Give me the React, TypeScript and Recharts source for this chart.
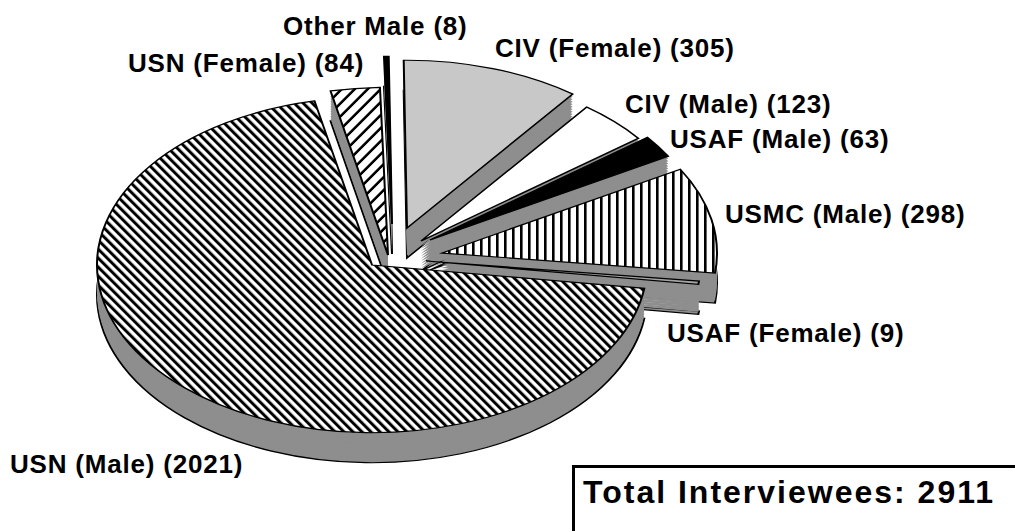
import { PieChart, Pie } from 'recharts';

// interview counts, in pie order (counter-clockwise from the right)
const GROUPS = ['USAF (Female)', 'USMC (Male)', 'USAF (Male)', 'CIV (Male)', 'CIV (Female)', 'Other Male', 'USN (Female)', 'USN (Male)'];
const COUNTS = [9, 298, 63, 123, 305, 8, 84, 2021];
const TOTAL_TITLE = 'Total Interviewees';

// look of each slice
const FILLS = ['#a4a4a4', 'url(#vlines)', '#000000', '#ffffff', '#c8c8c8', '#000000', 'url(#fwd)', 'url(#back)'];
const SHIFT = [[36, 11], [52, 3], [40, -10], [31, -9], [17, -22], [2, -26], [-2, 5], [-18, 15]];
const DRAW_ORDER = [5, 6, 4, 3, 2, 1, 0, 7];
const LABEL_POS = [[667, 342], [725, 223], [670, 148], [625, 113], [495, 57], [283, 35], [128, 72], [10, 473]];

const W = 1015;
const HGT = 531;
const K = 0.61; // vertical squash for the tilted pie
const R = 275;
const BASE = [390, 250];
const DEPTH = 30;
const STEP = 2.5;
const START = -8;
const DEPTH_FILL = '#8e8e8e';

const total = COUNTS.reduce((a, b) => a + b, 0);

const slices = (() => {
  let a = START;
  return COUNTS.map((c, i) => {
    const s = a;
    a += (c / total) * 360;
    return { i, start: s, end: a, data: [{ name: GROUPS[i], value: c }] };
  });
})();

// hatch angle that reads as 45deg once the chart is squashed
const tilt = (dir: number) => dir * Math.atan(K) * 180 / Math.PI;

export default function App() {
  const H = HGT / K;

  const pies: any[] = [];
  DRAW_ORDER.forEach(idx => {
    const sl = slices[idx];
    const [dx, dy] = SHIFT[idx];
    const cx = BASE[0] + dx;
    for (let d = DEPTH; d > 0; d -= STEP) {
      pies.push(
        <Pie key={`d${idx}-${d}`} data={sl.data} dataKey="value" cx={cx} cy={(BASE[1] + dy + d) / K}
          outerRadius={R} startAngle={sl.start} endAngle={sl.end}
          fill={DEPTH_FILL} stroke={d === DEPTH ? '#000' : 'none'} strokeWidth={d === DEPTH ? 2 : 0}
          isAnimationActive={false} label={false} labelLine={false} legendType="none" />
      );
    }
    pies.push(
      <Pie key={`t${idx}`} data={sl.data} dataKey="value" cx={cx} cy={(BASE[1] + dy) / K}
        outerRadius={R} startAngle={sl.start} endAngle={sl.end}
        fill={FILLS[idx]} stroke="#000" strokeWidth={2}
        isAnimationActive={false} label={false} labelLine={false} legendType="none" />
    );
  });

  const cosT = Math.cos(Math.atan(K));

  return (
    <div style={{ position: 'relative', width: W, height: HGT, overflow: 'hidden', background: '#fff', fontFamily: '"Liberation Sans", Arial, sans-serif' }}>
      <style>{'body{margin:0}'}</style>
      <div style={{ position: 'absolute', left: 0, top: 0, width: W, height: H, transform: `scaleY(${K})`, transformOrigin: '0 0' }}>
        <PieChart width={W} height={H} margin={{ top: 0, right: 0, bottom: 0, left: 0 }}>
          <defs>
            <pattern id="back" patternUnits="userSpaceOnUse" width={9 * cosT} height={10} patternTransform={`rotate(${tilt(-1)})`}>
              <rect x={0} y={0} width={9 * cosT} height={10} fill="#fff" />
              <rect x={0} y={0} width={4.2 * cosT} height={10} fill="#000" />
            </pattern>
            <pattern id="fwd" patternUnits="userSpaceOnUse" width={13 * cosT} height={10} patternTransform={`rotate(${tilt(1)})`}>
              <rect x={0} y={0} width={13 * cosT} height={10} fill="#fff" />
              <rect x={0} y={0} width={3.6 * cosT} height={10} fill="#000" />
            </pattern>
            <pattern id="vlines" patternUnits="userSpaceOnUse" width={8} height={10}>
              <rect x={0} y={0} width={8} height={10} fill="#fff" />
              <rect x={0} y={0} width={2.6} height={10} fill="#000" />
            </pattern>
          </defs>
          {pies}
        </PieChart>
      </div>
      <svg width={W} height={HGT} style={{ position: 'absolute', left: 0, top: 0, pointerEvents: 'none' }}>
        {GROUPS.map((g, i) => (
          <text key={g} x={LABEL_POS[i][0]} y={LABEL_POS[i][1]} fontSize={26} fontWeight={700}
            letterSpacing={0.8} fill="#000">{`${g} (${COUNTS[i]})`}</text>
        ))}
        <rect x={573.5} y={466.5} width={500} height={120} fill="#fff" stroke="#000" strokeWidth={3} />
        <text x={583} y={503} fontSize={32} fontWeight={700} letterSpacing={2} fill="#000">
          {`${TOTAL_TITLE}: ${total}`}
        </text>
      </svg>
    </div>
  );
}
